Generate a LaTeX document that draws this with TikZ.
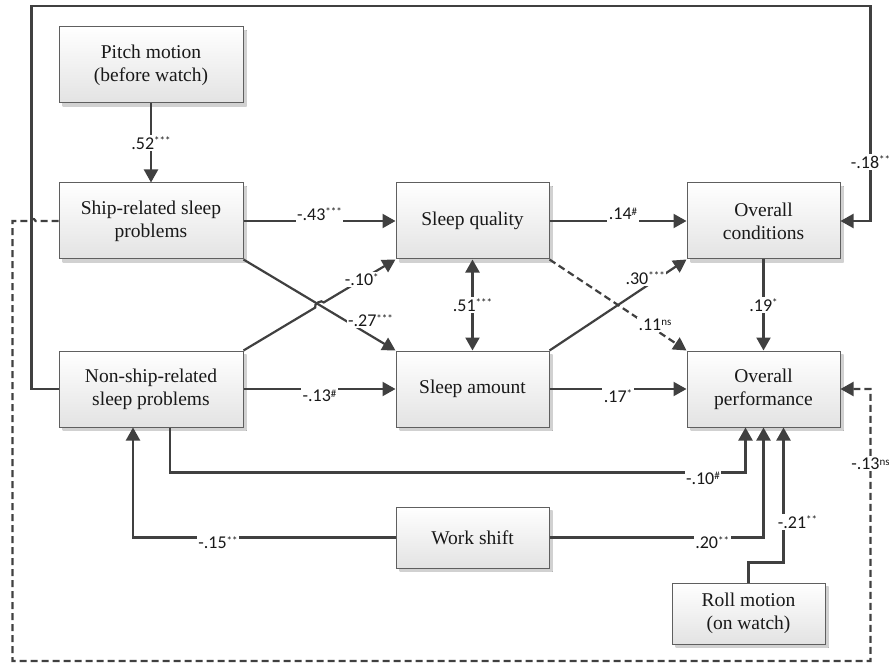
\documentclass[tikz,border=0pt]{standalone}
\usepackage{fontspec}
\setmainfont{Liberation Serif}
\newfontfamily\lblfont{Carlito}
\usetikzlibrary{arrows.meta,shadows,calc}
\definecolor{linkgray}{HTML}{404040}
\definecolor{boxgray}{HTML}{5F5F5F}
\newcommand\pval[1]{\raisebox{4.5pt}{\fontsize{11}{11}\selectfont#1}}

\begin{document}
\begin{tikzpicture}[x=1pt,y=-1pt,
                    var/.style={draw=boxgray, line width=1pt, top color=white, bottom color=black!11,
                                minimum height=76pt, align=center, text=black!90,
                                font=\fontsize{19.5}{23}\selectfont,
                                drop shadow={shadow xshift=3.5pt, shadow yshift=-3.5pt, top color=black!18, bottom color=black!18, draw=none, opacity=1}},
                    wide/.style={minimum width=184pt},
                    narrow/.style={minimum width=153pt},
                    short/.style={minimum height=61pt},
                    link/.style={draw=linkgray, line width=2.2pt, -{Triangle[length=13pt,width=14pt]}},
                    ns link/.style={link, dash pattern=on 7pt off 4pt},
                    coef/.style={fill=white, inner sep=1.5pt, text=black!90, font=\lblfont\fontsize{18}{18}\selectfont}]
    \useasboundingbox (0,0) rectangle (889,663);

    % variables
    \node (pitch)   [var, wide]   at (151,65)    {Pitch motion\\(before watch)};
    \node (shipsp)  [var, wide]   at (151,221)   {Ship-related sleep\\problems};
    \node (nonsp)   [var, wide]   at (151,389)   {Non-ship-related\\sleep problems};
    \node (quality) [var, narrow] at (472.5,221) {Sleep quality};
    \node (amount)  [var, narrow] at (472.5,389) {Sleep amount};
    \node (cond)    [var, narrow] at (763.5,221) {Overall\\conditions};
    \node (perf)    [var, narrow] at (763.5,389) {Overall\\performance};
    \node (shift)   [var, narrow, short] at (472.5,537.5) {Work shift};
    \node (roll)    [var, narrow, short] at (748.5,613.5) {Roll motion\\(on watch)};

    % paths
    \draw[link] (pitch) -- node[coef] {.52\pval{***}} (shipsp);
    \draw[link] (shipsp) -- node[coef, yshift=7pt] {-.43\pval{***}} (quality);
    \draw[link] (shipsp.south east) -- node[coef, pos=0.75, xshift=13pt, yshift=7pt] {-.27\pval{***}} (amount.north west);
    \coordinate (cross) at ($(shipsp.south east)!0.5!(amount.north west)$);
    \draw[link] (nonsp.north east) -- ($(cross)!5pt!(nonsp.north east)$)
        to[bend left=90] ($(cross)!5pt!(quality.south west)$)
        -- node[coef, pos=0.53] {-.10\pval{*}} (quality.south west);
    \draw[link] (quality) -- node[coef, xshift=5pt, yshift=7pt] {.14\pval{\#}} (cond);
    \draw[link] (amount.north east) -- node[coef, pos=0.72, xshift=-3pt, yshift=7pt] {.30\pval{***}} (cond.south west);
    \draw[ns link] (quality.south east) -- node[coef, pos=0.77, yshift=5pt] {.11\pval{ns}} (perf.north west);
    \draw[link, {Triangle[length=13pt,width=14pt]}-{Triangle[length=13pt,width=14pt]}] (quality) -- node[coef] {.51\pval{***}} (amount);
    \draw[link] (cond) -- node[coef] {.19\pval{*}} (perf);
    \draw[link] (nonsp) -- node[coef, yshift=-7pt] {-.13\pval{\#}} (amount);
    \draw[link] (amount) -- node[coef, yshift=-7pt] {.17\pval{*}} (perf);
    \draw[link] ([xshift=19pt]nonsp.south) -- ++(0,45) -| node[coef, pos=0.463, yshift=-6pt] {-.10\pval{\#}} ([xshift=-18pt]perf.south);
    \draw[link] (shift.west) -| node[coef, pos=0.338, yshift=-5pt] {-.15\pval{**}} ([xshift=-18pt]nonsp.south);
    \draw[link] (shift.east) -| node[coef, pos=0.38, yshift=-5pt] {.20\pval{**}} (perf.south);
    \draw[link] (roll.north) -- ++(0,-20) -| node[coef, pos=0.65, xshift=14pt] {-.21\pval{**}} ([xshift=20pt]perf.south);
    \draw[link] (nonsp.west) -- ++(-27,0) -- ++(0,-383) -- ++(839,0) |- node[coef, pos=0.363] {-.18\pval{**}} (cond.east);
    \draw[ns link] (shipsp.west) -- ++(-23,0) to[bend right=90] ++(-8,0) -- ++(-15,0) -- ++(0,440) -- ++(858,0)
        |- node[coef, pos=0.362] {-.13\pval{ns}} (perf.east);
\end{tikzpicture}
\end{document}
